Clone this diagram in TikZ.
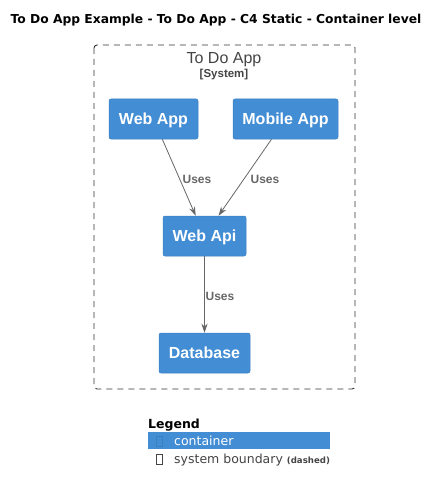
\documentclass[tikz,border=0pt]{standalone}
\usepackage{fontspec}
\setmainfont{Liberation Sans}
\newfontfamily\legendfont{DejaVu Sans}
\usetikzlibrary{arrows.meta}
\definecolor{containerblue}{HTML}{438DD5}
\definecolor{containerborder}{HTML}{3C7FC0}
\definecolor{boundarygray}{HTML}{444444}
\definecolor{relgray}{HTML}{666666}

\begin{document}
\begin{tikzpicture}[x=1pt,y=-1pt,
    container/.style={fill=containerblue, draw=containerborder, line width=0.5pt,
        rounded corners=2pt, text=white, font=\bfseries\fontsize{16}{18}\selectfont,
        minimum height=40pt, inner sep=0pt, text height=11.5pt, text depth=0pt},
    uses/.style={-{Stealth[length=9pt,width=6pt]}, draw=relgray, line width=0.8pt},
    useslabel/.style={text=relgray, font=\bfseries\fontsize{12}{14}\selectfont, inner sep=0pt},
    legendtext/.style={anchor=base west, inner sep=0pt, font=\legendfont\fontsize{12.5}{14}\selectfont}]
\useasboundingbox (0,0) rectangle (440,492);

\node[font=\legendfont\bfseries\fontsize{12.3}{14}\selectfont] (title) at (216,20) {To Do App Example - To Do App - C4 Static - Container level};

    \draw[black!80, dash pattern=on 6pt off 5pt, line width=0.9pt, rounded corners=3pt] (94,45) rectangle (355,389);
    \node[anchor=base, inner sep=0pt, text=boundarygray, font=\fontsize{16}{18}\selectfont] (systemname) at (224,64) {To Do App};
    \node[anchor=base, inner sep=0pt, text=boundarygray, font=\bfseries\fontsize{11.5}{13}\selectfont] (systemtag) at (224,78) {[System]};

    \node[container, minimum width=89pt] (webapp) at (153.5,119) {Web App};
    \node[container, minimum width=105pt] (mobileapp) at (285.5,119) {Mobile App};
    \node[container, minimum width=83pt] (webapi) at (204.5,236) {Web Api};
    \node[container, minimum width=91pt] (database) at (204.5,353) {Database};

    \draw[uses] (webapp) -- (webapi);
    \draw[uses] (mobileapp) -- (webapi);
    \draw[uses] (webapi) -- (database);
    \node[useslabel] (webappuses) at (197,179) {Uses};
    \node[useslabel] (mobileuses) at (265,179) {Uses};
    \node[useslabel] (apiuses) at (220,296) {Uses};

    \node[anchor=base west, inner sep=0pt, font=\legendfont\bfseries\fontsize{12.5}{14}\selectfont] (legend) at (148,428) {Legend};
    \fill[containerblue] (148,432) rectangle (330,449);
    \draw[containerborder, line width=0.5pt] (156,436) rectangle (162,446);
    \node[legendtext, text=white] (legendcontainer) at (174,445) {container};
    \draw[boundarygray, line width=0.5pt] (156,454) rectangle (162,464);
    \node[legendtext, text=boundarygray] (legendboundary) at (174,463) {system boundary {\bfseries\fontsize{8.6}{9}\selectfont(dashed)}};
\end{tikzpicture}
\end{document}
